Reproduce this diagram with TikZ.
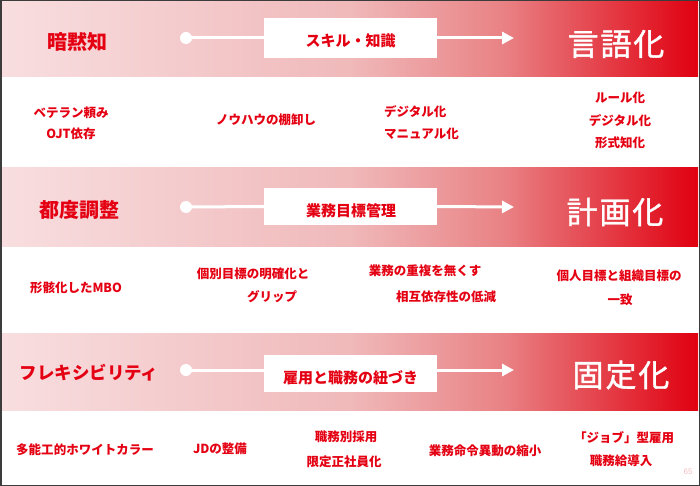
\documentclass[tikz,border=0pt]{standalone}
\usepackage{fontspec}
\setmainfont{Noto Sans CJK JP}
\newfontfamily\jpwide{Noto Sans CJK JP}[LetterSpace=6, FakeBold=1.3]
\newfontfamily\numfont{Liberation Sans}
\usetikzlibrary{arrows.meta}
\definecolor{jred}{RGB}{228,0,18}
\definecolor{pagepink}{RGB}{243,190,195}
\definecolor{framegray}{RGB}{60,60,60}
\pgfdeclarehorizontalshading{bandshade}{100bp}{rgb(0bp)=(0.973,0.871,0.878); rgb(25bp)=(0.973,0.871,0.878); rgb(50bp)=(0.941,0.725,0.729); rgb(61bp)=(0.914,0.51,0.52); rgb(75bp)=(0.878,0.0,0.063); rgb(100bp)=(0.878,0.0,0.063)}
\tikzset{
  band/.style={shading=bandshade},
  dot/.style={circle, fill=white, inner sep=0pt, minimum size=12pt},
  midbox/.style={fill=white, minimum width=173pt, inner sep=0pt},
  midtext/.style={text=jred, inner sep=0pt, font=\bfseries\fontsize{15}{15}\selectfont},
  lefttxt/.style={text=jred, inner sep=0pt, font=\bfseries\fontsize{20}{20}\selectfont},
  righttxt/.style={text=white, inner sep=0pt, font=\jpwide\fontsize{31}{31}\selectfont},
  item/.style={text=jred, inner sep=0pt, font=\bfseries\fontsize{12.5}{12.5}\selectfont},
  link/.style={white, line width=3pt},
  flow/.style={white, line width=3pt, -{Triangle[length=12pt,width=12pt]}},
}
\begin{document}
\begin{tikzpicture}[x=1pt, y=-1pt]
\useasboundingbox (0,0) rectangle (700,486);
\fill[white] (0,0) rectangle (700,486);
% bands
\shade[band] (2,2) rectangle (698,77);
\shade[band] (2,168) rectangle (698,246);
\shade[band] (2,333) rectangle (698,410);

% band 1
\node[lefttxt] (l1) at (77,42) {暗黙知};
\node[dot] (c1) at (186,38) {};
\node[midbox, minimum height=40pt] (b1) at (350.5,38) {};
\node[midtext] (t1) at (350.5,41) {スキル・知識};
\coordinate (e1) at (514,38);
\draw[link] (c1.center) -- (b1.west);
\draw[flow] (b1.east) -- (e1);
\node[righttxt] (r1) at (616,44) {言語化};

% band 2
\node[lefttxt] (l2) at (79,210) {都度調整};
\node[dot] (c2) at (186,207) {};
\node[midbox, minimum height=37pt] (b2) at (350.5,206.5) {};
\node[midtext] (t2) at (351,211) {業務目標管理};
\coordinate (e2) at (514,207);
\draw[link] (c2.center) -- (b2.west);
\draw[flow] (b2.east) -- (e2);
\node[righttxt] (r2) at (615,212) {計画化};

% band 3
\node[lefttxt, font=\bfseries\fontsize{17.5}{17.5}\selectfont] (l3) at (89,373) {フレキシビリティ};
\node[dot] (c3) at (186,370) {};
\node[midbox, minimum height=37pt] (b3) at (350.5,373.5) {};
\node[midtext] (t3) at (350.5,378) {雇用と職務の紐づき};
\coordinate (e3) at (514,370);
\draw[link] (c3.center) -- (b3.west |- c3);
\draw[flow] (b3.east |- c3) -- (e3);
\node[righttxt] (r3) at (621,375) {固定化};

% row 1
\node[item] (a1) at (71,113) {ベテラン頼み};
\node[item] (a2) at (71,134) {OJT依存};
\node[item] (a3) at (266,120) {ノウハウの棚卸し};
\node[item, anchor=west] (a4) at (384,112) {デジタル化};
\node[item, anchor=west] (a5) at (384,134) {マニュアル化};
\node[item] (a6) at (620,98) {ルール化};
\node[item] (a7) at (620,121) {デジタル化};
\node[item] (a8) at (620,143) {形式知化};

% row 2
\node[item] (m1) at (76,288) {形骸化したMBO};
\node[item] (m2) at (253,274) {個別目標の明確化と};
\node[item] (m3) at (272,297) {グリップ};
\node[item] (m4) at (425,271) {業務の重複を無くす};
\node[item] (m5) at (446,297) {相互依存性の低減};
\node[item] (m6) at (619,276) {個人目標と組織目標の};
\node[item] (m7) at (620,300) {一致};

% row 3
\node[item] (n1) at (85,450) {多能工的ホワイトカラー};
\node[item] (n2) at (220,449) {JDの整備};
\node[item] (n3) at (346,437) {職務別採用};
\node[item] (n4) at (344,462) {限定正社員化};
\node[item] (n5) at (485,451) {業務命令異動の縮小};
\node[item] (n6) at (624,438) {「ジョブ」型雇用};
\node[item] (n7) at (621,461) {職務給導入};

\node[text=pagepink, inner sep=0pt, font=\numfont\fontsize{8}{8}\selectfont] (pg) at (688,472) {65};

% frame
\draw[framegray, line width=1.5pt] (0.75,0.75) rectangle (699.25,485.25);
\end{tikzpicture}
\end{document}
